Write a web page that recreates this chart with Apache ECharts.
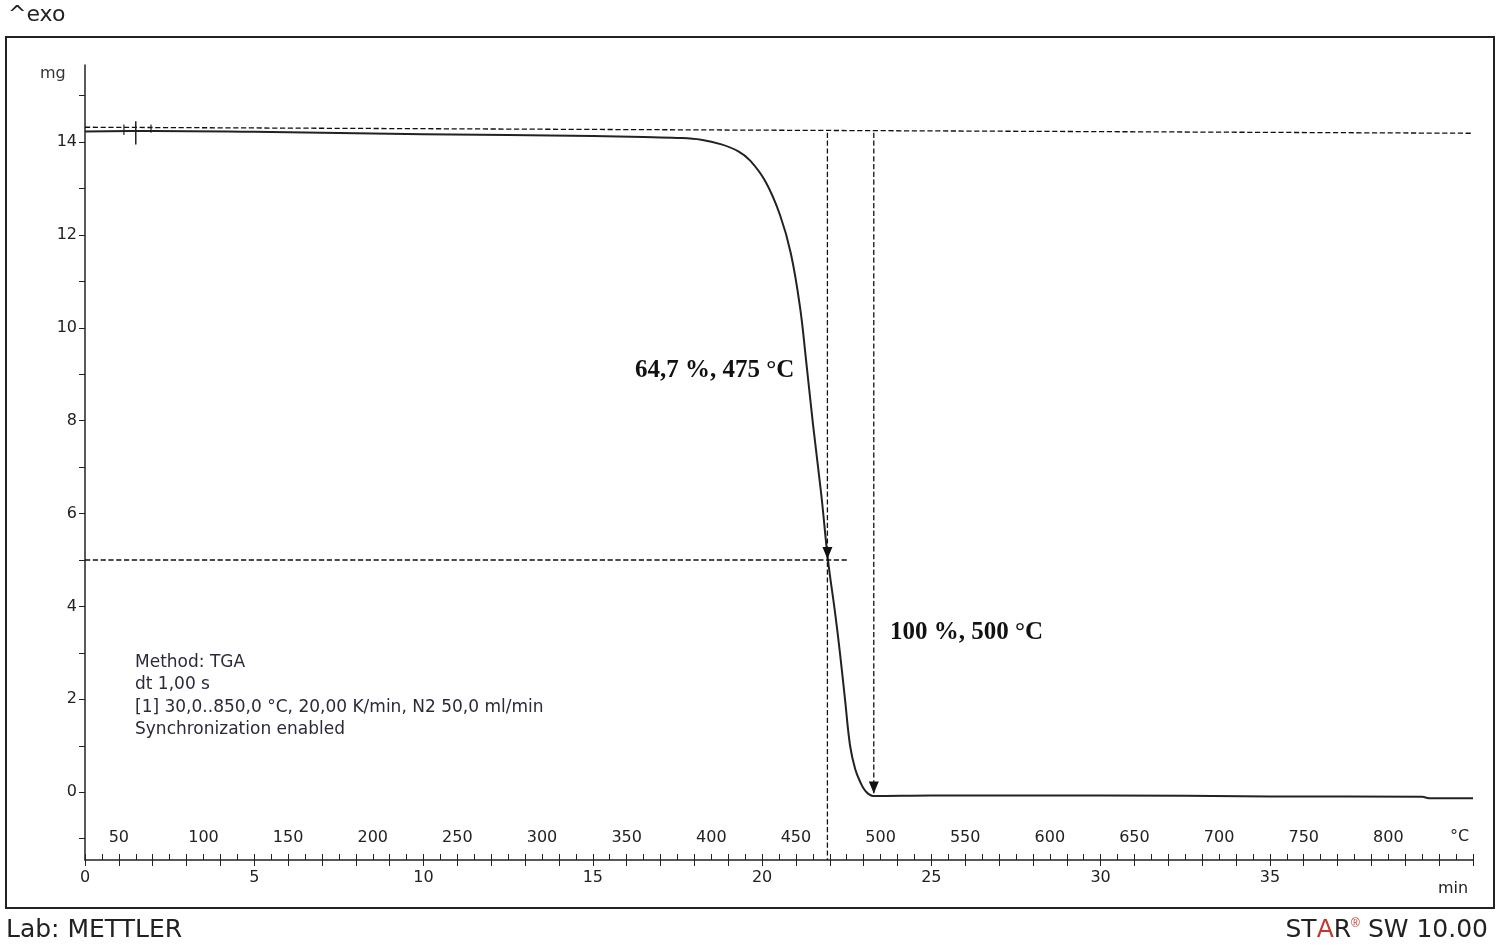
<!DOCTYPE html>
<html><head><meta charset="utf-8">
<script src="https://cdn.jsdelivr.net/npm/echarts@6/dist/echarts.min.js"></script>
<style>body{margin:0;background:#fff}#c{width:1500px;height:950px}</style>
</head><body><div id="c"></div>
<script>
// TGA curve: time (min) vs mass (mg)
var timeMin = [0, 2, 5, 10, 15, 16.5, 17.5, 18.2, 18.8, 19.3, 19.65, 20.1, 20.53, 20.85, 21.12, 21.3, 21.5, 21.75, 21.95, 22.15, 22.3, 22.45, 22.6, 22.75, 22.9, 23.05, 23.28, 25, 30, 35, 39.5, 39.7, 41];
var massMg  = [14.23, 14.24, 14.22, 14.17, 14.13, 14.11, 14.09, 14.05, 13.95, 13.8, 13.6, 13.15, 12.43, 11.6, 10.45, 9.3, 7.95, 6.4, 4.98, 3.9, 3.0, 2.0, 1.0, 0.5, 0.22, 0.03, -0.08, -0.07, -0.07, -0.09, -0.1, -0.13, -0.13];
var tempTicks = [50, 100, 150, 200, 250, 300, 350, 400, 450, 500, 550, 600, 650, 700, 750, 800];
var massTicks = [0, 2, 4, 6, 8, 10, 12, 14];
var timeTicks = [0, 5, 10, 15, 20, 25, 30, 35];
var stepT = [21.93, 23.3];   // min, where the dashed markers drop
var stepMass = [5.0, -0.05];
var baseLine = [14.32, 14.19];

var minorTemp=[]; for(var t=30;t<=850;t+=10) minorTemp.push(t);
var minorMass=[]; for(var m=-1;m<=15;m++) minorMass.push(m);
var minorTime=[]; for(var k=0;k<=41;k++) minorTime.push(k);

var curve = timeMin.map(function(t,i){return [t,massMg[i]];});
var dash = {type:'dashed',color:'#111',width:1.3};
var chart = echarts.init(document.getElementById('c'));
chart.setOption({
  animation:false,
  grid:{left:85,top:65,right:27,bottom:90},
  xAxis:[{
    type:'value',min:0,max:41,position:'bottom',
    axisLine:{onZero:false,lineStyle:{color:'#222',width:1.5}},
    axisTick:{customValues:minorTime,length:6,lineStyle:{color:'#222'}},
    axisLabel:{customValues:timeTicks,color:'#222',fontSize:16,fontFamily:'DejaVu Sans',margin:10},
    splitLine:{show:false}
  },{
    type:'value',min:30,max:850,position:'bottom',
    axisLine:{show:false,onZero:false},
    axisTick:{customValues:minorTemp,inside:true,length:6,lineStyle:{color:'#222'}},
    axisLabel:{customValues:tempTicks,inside:true,color:'#222',fontSize:16,fontFamily:'DejaVu Sans',margin:14},
    splitLine:{show:false}
  }],
  yAxis:{
    type:'value',min:-1.46,max:15.66,
    axisLine:{show:true,onZero:false,lineStyle:{color:'#222',width:1.5}},
    axisTick:{customValues:minorMass,length:6,lineStyle:{color:'#222'}},
    axisLabel:{customValues:massTicks,color:'#222',fontSize:16,fontFamily:'DejaVu Sans'},
    splitLine:{show:false}
  },
  series:[
    {type:'line',data:curve,smooth:0.4,showSymbol:false,lineStyle:{color:'#222',width:2}},
    {type:'line',data:[[0,baseLine[0]],[41,baseLine[1]]],showSymbol:false,lineStyle:dash},
    {type:'line',data:[[0,stepMass[0]],[22.55,stepMass[0]]],showSymbol:false,lineStyle:dash},
    {type:'line',data:[[stepT[0],14.2],[stepT[0],-1.46]],showSymbol:false,lineStyle:dash},
    {type:'line',data:[[stepT[0],14.2],[stepT[0],stepMass[0]]],showSymbol:false,lineStyle:{width:0},
      markPoint:{symbol:'triangle',symbolRotate:180,symbolSize:[10,12],itemStyle:{color:'#111'},
        data:[{coord:[stepT[0],stepMass[0]+0.15]}],label:{show:false}}},
    {type:'line',data:[[stepT[1],14.2],[stepT[1],stepMass[1]]],showSymbol:false,lineStyle:dash,
      markPoint:{symbol:'triangle',symbolRotate:180,symbolSize:[10,12],itemStyle:{color:'#111'},
        data:[{coord:[stepT[1],stepMass[1]+0.15]}],label:{show:false}}},
    {type:'line',data:[[1.5,13.95],[1.5,14.45]],showSymbol:false,lineStyle:{color:'#222',width:1.5}},
    {type:'line',data:[[1.15,14.15],[1.15,14.38]],showSymbol:false,lineStyle:{color:'#222',width:1.2}},
    {type:'line',data:[[1.95,14.2],[1.95,14.38]],showSymbol:false,lineStyle:{color:'#222',width:1.2}}
  ],
  graphic:[
    {type:'rect',shape:{x:6,y:37,width:1488,height:871},style:{fill:'none',stroke:'#222',lineWidth:2}},
    {type:'text',left:8,top:4,style:{text:'^exo',fontSize:22,fill:'#222',fontFamily:'DejaVu Sans'}},
    {type:'text',left:40,top:66,style:{text:'mg',fontSize:16,fill:'#333',fontFamily:'DejaVu Sans'}},
    {type:'text',left:1450,top:829,style:{text:'°C',fontSize:16,fill:'#222',fontFamily:'DejaVu Sans'}},
    {type:'text',left:1438,top:881,style:{text:'min',fontSize:16,fill:'#222',fontFamily:'DejaVu Sans'}},
    {type:'text',left:135,top:651,style:{text:'Method: TGA\ndt 1,00 s\n[1] 30,0..850,0 °C, 20,00 K/min, N2 50,0 ml/min\nSynchronization enabled',fontSize:17,lineHeight:22.5,fill:'#2a2a3a',fontFamily:'DejaVu Sans'}},
    {type:'text',left:635,top:358,style:{text:'64,7 %, 475 °C',fontSize:25,fontWeight:'bold',fill:'#111',fontFamily:'Liberation Serif'}},
    {type:'text',left:890,top:620,style:{text:'100 %, 500 °C',fontSize:25,fontWeight:'bold',fill:'#111',fontFamily:'Liberation Serif'}},
    {type:'text',left:6,top:918,style:{text:'Lab: METTLER',fontSize:25,fill:'#222',fontFamily:'DejaVu Sans'}},
    {type:'text',right:12,top:918,style:{rich:{a:{fontSize:25,fill:'#222',fontFamily:'DejaVu Sans'},r:{fontSize:25,fill:'#c0392b',fontFamily:'DejaVu Sans'},s:{fontSize:12,fill:'#c0392b',verticalAlign:'top'}},
      text:'{a|ST}{r|A}{a|R}{s|®}{a| SW 10.00}'}}
  ]
});
</script></body></html>
